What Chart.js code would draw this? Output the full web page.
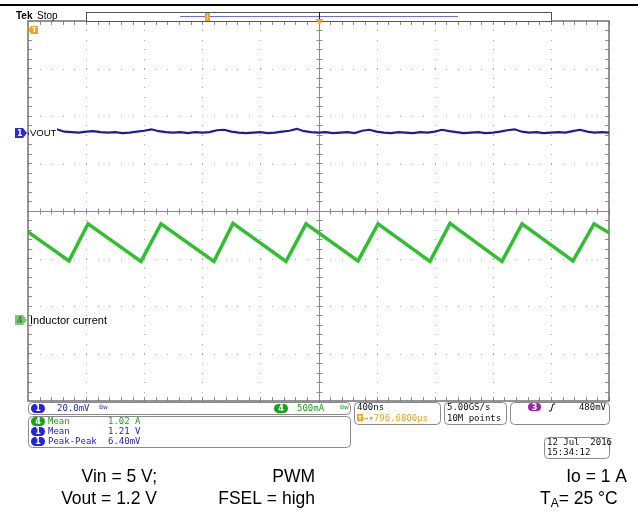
<!DOCTYPE html>
<html lang="en">

<head>
  <meta charset="UTF-8">
  <title>Scope capture - VOUT / Inductor current</title>
  <script src="https://cdn.jsdelivr.net/npm/chart.js"></script>
  <style>
    html, body { margin: 0; padding: 0; background: #fff; }
    #scopeChart { display: block; }
  </style>
</head>

<body>
  <canvas id="scopeChart" width="638" height="518"></canvas>

  <script>
    // time axis in divisions (400 ns/div), vertical in divisions
    const voutStep = 0.125;
    const voutValues = [
      1.63, 1.65, 1.64, 1.66, 1.72, 1.67, 1.66, 1.65, 1.67, 1.68,
      1.66, 1.65, 1.66, 1.64, 1.65, 1.67, 1.69, 1.72, 1.68, 1.66,
      1.65, 1.66, 1.64, 1.66, 1.65, 1.66, 1.70, 1.71, 1.67, 1.65,
      1.64, 1.65, 1.66, 1.64, 1.65, 1.67, 1.69, 1.73, 1.68, 1.66,
      1.65, 1.66, 1.64, 1.65, 1.66, 1.64, 1.69, 1.71, 1.67, 1.65,
      1.64, 1.66, 1.65, 1.64, 1.66, 1.65, 1.67, 1.71, 1.68, 1.66,
      1.64, 1.65, 1.66, 1.64, 1.65, 1.67, 1.70, 1.72, 1.67, 1.65,
      1.66, 1.64, 1.65, 1.66, 1.65, 1.68, 1.71, 1.67, 1.65, 1.66,
      1.65
    ];
    const ilTimes = [0, 0.706, 1.033, 1.945, 2.289, 3.201, 3.528, 4.441, 4.785, 5.680, 6.024, 6.919, 7.263, 8.158, 8.503, 9.380, 9.742, 10];
    const ilValues = [-0.44, -1.05, -0.27, -1.06, -0.27, -1.06, -0.26, -1.06, -0.27, -1.05, -0.27, -1.06, -0.26, -1.06, -0.27, -1.05, -0.27, -0.46];

    const measLabels = ['Mean', 'Mean', 'Peak-Peak'];
    const measValues = ['1.02 A', '1.21 V', '6.40mV'];
    const measChannels = ['4', '1', '1'];

    const captionRows = [
      ['Vin = 5 V;', 'PWM', 'Io = 1 A'],
      ['Vout = 1.2 V', 'FSEL = high', 'TA= 25 °C']
    ];

    const BLUE = '#2323e0';
    const GREEN = '#17a317';
    const ORANGE = '#f2a21c';
    const MONO = '9px "DejaVu Sans Mono"';

    function ovalTag(ctx, x, y, w, h, color, txt) {
      ctx.fillStyle = color;
      ctx.beginPath();
      ctx.roundRect(x, y, w, h, h / 2);
      ctx.fill();
      ctx.fillStyle = '#fff';
      ctx.font = 'bold 8px "DejaVu Sans"';
      ctx.textAlign = 'center';
      ctx.textBaseline = 'middle';
      ctx.fillText(txt, x + w / 2, y + h / 2 + 0.5);
      ctx.textAlign = 'left';
    }

    function box(ctx, x, y, w, h) {
      ctx.strokeStyle = '#8a8a8a';
      ctx.lineWidth = 1;
      ctx.beginPath();
      ctx.roundRect(x + 0.5, y + 0.5, w, h, 4);
      ctx.stroke();
    }

    function channelMarker(ctx, x, y, color, txt, txtColor) {
      ctx.fillStyle = color;
      ctx.beginPath();
      ctx.moveTo(x, y - 5);
      ctx.lineTo(x + 8, y - 5);
      ctx.lineTo(x + 12, y);
      ctx.lineTo(x + 8, y + 5);
      ctx.lineTo(x, y + 5);
      ctx.closePath();
      ctx.fill();
      ctx.fillStyle = txtColor;
      ctx.font = 'bold 8px "DejaVu Sans"';
      ctx.textBaseline = 'middle';
      ctx.fillText(txt, x + 2, y + 0.5);
    }

    const graticule = {
      id: 'graticule',
      beforeDatasetsDraw(chart) {
        const { ctx, chartArea: a, scales: { x, y } } = chart;
        ctx.save();
        // dotted grid
        ctx.fillStyle = '#a8a8a8';
        for (let i = 1; i < 10; i++) {
          const px = Math.round(x.getPixelForValue(i));
          for (let j = -4; j <= 4; j += 0.2) ctx.fillRect(px, Math.round(y.getPixelForValue(j)), 1, 1);
        }
        for (let j = -3; j <= 3; j++) {
          const py = Math.round(y.getPixelForValue(j));
          for (let i = 0; i <= 10; i += 0.2) ctx.fillRect(Math.round(x.getPixelForValue(i)), py, 1, 1);
        }
        // centre cross + frame with minor ticks
        const cx = Math.round(x.getPixelForValue(5)) + 0.5;
        const cy = Math.round(y.getPixelForValue(0)) + 0.5;
        ctx.strokeStyle = '#8c8c8c';
        ctx.lineWidth = 1;
        ctx.beginPath();
        ctx.moveTo(a.left, cy); ctx.lineTo(a.right, cy);
        ctx.moveTo(cx, a.top); ctx.lineTo(cx, a.bottom);
        for (let i = 0.2; i < 10; i += 0.2) {
          const px = Math.round(x.getPixelForValue(i)) + 0.5;
          ctx.moveTo(px, cy - 3); ctx.lineTo(px, cy + 3);
          ctx.moveTo(px, a.top); ctx.lineTo(px, a.top + 4);
          ctx.moveTo(px, a.bottom); ctx.lineTo(px, a.bottom - 4);
        }
        for (let j = -3.8; j < 4; j += 0.2) {
          const py = Math.round(y.getPixelForValue(j)) + 0.5;
          ctx.moveTo(cx - 3, py); ctx.lineTo(cx + 3, py);
          ctx.moveTo(a.left, py); ctx.lineTo(a.left + 4, py);
          ctx.moveTo(a.right, py); ctx.lineTo(a.right - 4, py);
        }
        ctx.stroke();
        ctx.strokeStyle = '#707070';
        ctx.lineWidth = 1.5;
        ctx.strokeRect(a.left, a.top, a.right - a.left, a.bottom - a.top);
        ctx.restore();
      },
      afterDraw(chart) {
        const { ctx, chartArea: a, scales: { x, y } } = chart;
        ctx.save();

        // top bar
        ctx.fillStyle = '#000';
        ctx.fillRect(0, 4, 638, 2);
        ctx.font = 'bold 10px "Liberation Sans"';
        ctx.textBaseline = 'middle';
        ctx.fillText('Tek', 16, 16);
        ctx.font = '10px "Liberation Sans"';
        ctx.fillText('Stop', 37, 16);
        ctx.fillStyle = '#fff';
        ctx.fillRect(86, 12, 465, 9);
        ctx.strokeStyle = '#555';
        ctx.lineWidth = 1;
        ctx.strokeRect(86.5, 12.5, 465, 9);
        ctx.strokeStyle = '#6a6af0';
        ctx.beginPath(); ctx.moveTo(180, 16.5); ctx.lineTo(458, 16.5); ctx.stroke();
        ctx.fillStyle = ORANGE;
        ctx.fillRect(205, 13, 5, 8);
        ctx.fillStyle = '#ffd080';
        ctx.fillRect(207, 14, 1, 6);
        const tx = Math.round(x.getPixelForValue(5)) + 0.5;
        ctx.strokeStyle = '#222';
        ctx.beginPath(); ctx.moveTo(tx, 12); ctx.lineTo(tx, 19); ctx.stroke();
        ctx.fillStyle = ORANGE;
        ctx.beginPath();
        ctx.moveTo(tx - 4, 19); ctx.lineTo(tx + 4, 19); ctx.lineTo(tx, 25); ctx.closePath();
        ctx.fill();

        // trigger level marker (top left)
        ctx.fillStyle = ORANGE;
        ctx.beginPath();
        ctx.moveTo(a.left, 30); ctx.lineTo(a.left + 3, 26); ctx.lineTo(a.left + 10, 26);
        ctx.lineTo(a.left + 10, 34); ctx.lineTo(a.left + 3, 34); ctx.closePath();
        ctx.fill();
        ctx.fillStyle = '#fff';
        ctx.font = 'bold 7px "DejaVu Sans"';
        ctx.fillText('T', a.left + 4, 30.5);

        // channel markers and labels
        const y1 = Math.round(y.getPixelForValue(1.64));
        channelMarker(ctx, 15, y1, '#2a2ad8', '1', '#fff');
        ctx.fillStyle = '#fff';
        ctx.fillRect(29, y1 - 5, 28, 10);
        ctx.fillStyle = '#000';
        ctx.font = '9.5px "Liberation Sans"';
        ctx.fillText('VOUT', 30, y1 + 0.5);
        const y4 = Math.round(y.getPixelForValue(-2.3));
        channelMarker(ctx, 15, y4, '#7cc47c', '4', '#3a8a3a');
        ctx.fillStyle = '#000';
        ctx.font = '11px "Liberation Sans"';
        ctx.fillText('Inductor current', 30, y4 + 0.5);

        // status boxes
        box(ctx, 28, 402, 322, 12);
        ovalTag(ctx, 31, 404, 14, 9, BLUE, '1');
        ctx.font = MONO;
        ctx.textBaseline = 'middle';
        ctx.fillStyle = BLUE;
        ctx.fillText('20.0mV', 57, 408.5);
        ctx.font = '6px "DejaVu Sans"';
        ctx.fillText('Bw', 99, 407.5);
        ovalTag(ctx, 274, 404, 14, 9, GREEN, '4');
        ctx.font = MONO;
        ctx.fillStyle = GREEN;
        ctx.fillText('500mA', 297, 408.5);
        ctx.font = '6px "DejaVu Sans"';
        ctx.fillText('Bw', 340, 407.5);

        box(ctx, 28, 416, 322, 31);
        ctx.font = MONO;
        measLabels.forEach((lbl, i) => {
          const ry = 421.5 + i * 10;
          const col = measChannels[i] === '4' ? GREEN : BLUE;
          ovalTag(ctx, 31, ry - 4.5, 14, 9, col, measChannels[i]);
          ctx.font = MONO;
          ctx.fillStyle = col;
          ctx.textBaseline = 'middle';
          ctx.fillText(lbl, 48, ry + 0.5);
          ctx.fillText(measValues[i], 108, ry + 0.5);
        });

        box(ctx, 354, 402, 86, 22);
        ctx.font = MONO;
        ctx.fillStyle = '#111';
        ctx.fillText('400ns', 357, 408);
        ctx.fillStyle = ORANGE;
        ctx.fillRect(357, 414, 6, 7);
        ctx.fillStyle = '#fff';
        ctx.font = 'bold 6px "DejaVu Sans"';
        ctx.fillText('T', 358, 418);
        ctx.font = MONO;
        ctx.fillStyle = ORANGE;
        ctx.fillText('\u2192\u25be796.6800\u00b5s', 363, 418.5);

        box(ctx, 444, 402, 62, 22);
        ctx.fillStyle = '#111';
        ctx.fillText('5.00GS/s', 447, 408);
        ctx.fillText('10M points', 447, 418.5);

        box(ctx, 510, 402, 99, 22);
        ovalTag(ctx, 528, 403, 13, 8, '#a020b0', '3');
        ctx.strokeStyle = '#111';
        ctx.lineWidth = 1;
        ctx.beginPath();
        ctx.moveTo(549, 411); ctx.lineTo(551, 411); ctx.lineTo(553, 404); ctx.lineTo(555, 404);
        ctx.stroke();
        ctx.font = MONO;
        ctx.fillStyle = '#111';
        ctx.textAlign = 'right';
        ctx.fillText('480mV', 606, 408);
        ctx.textAlign = 'left';

        box(ctx, 544, 437, 65, 21);
        ctx.fillText('12 Jul  2016', 547, 442.5);
        ctx.fillText('15:34:12', 547, 452.5);

        // caption
        ctx.fillStyle = '#000';
        ctx.font = '17.5px "Liberation Sans"';
        ctx.textBaseline = 'middle';
        ctx.textAlign = 'right';
        const colX = [157, 315];
        captionRows.forEach((row, r) => {
          const ry = 477 + r * 22;
          ctx.fillText(row[0], colX[0], ry);
          ctx.fillText(row[1], colX[1], ry);
          if (row[2].startsWith('TA')) {
            ctx.textAlign = 'left';
            ctx.fillText('T', 540, ry);
            const tw = ctx.measureText('T').width;
            ctx.font = '12px "Liberation Sans"';
            ctx.fillText('A', 540 + tw, ry + 5);
            const aw = ctx.measureText('A').width;
            ctx.font = '17.5px "Liberation Sans"';
            ctx.fillText(row[2].slice(2), 540 + tw + aw, ry);
            ctx.textAlign = 'right';
          } else {
            ctx.fillText(row[2], 627, ry);
          }
        });
        ctx.restore();
      }
    };

    const voutData = voutValues.map((v, i) => ({ x: i * voutStep, y: v }));
    const ilData = ilTimes.map((t, i) => ({ x: t, y: ilValues[i] }));

    const scopeChart = new Chart(document.getElementById('scopeChart'), {
      type: 'line',
      data: {
        datasets: [
          { label: 'VOUT', data: voutData, borderColor: '#1c1c9c', borderWidth: 2.2, pointRadius: 0, tension: 0 },
          { label: 'Inductor current', data: ilData, borderColor: '#2fbf2f', borderWidth: 3.5, pointRadius: 0, tension: 0 },
          { label: 'Inductor current core', data: ilData, borderColor: 'rgba(10,110,10,0.55)', borderWidth: 1, pointRadius: 0, tension: 0 }
        ]
      },
      options: {
        responsive: false,
        animation: false,
        devicePixelRatio: 1,
        layout: { padding: { left: 28, top: 21, right: 29, bottom: 117 } },
        plugins: { legend: { display: false }, tooltip: { enabled: false } },
        scales: {
          x: { type: 'linear', min: 0, max: 10, display: false },
          y: { type: 'linear', min: -4, max: 4, display: false }
        }
      },
      plugins: [graticule]
    });
  </script>
</body>

</html>
